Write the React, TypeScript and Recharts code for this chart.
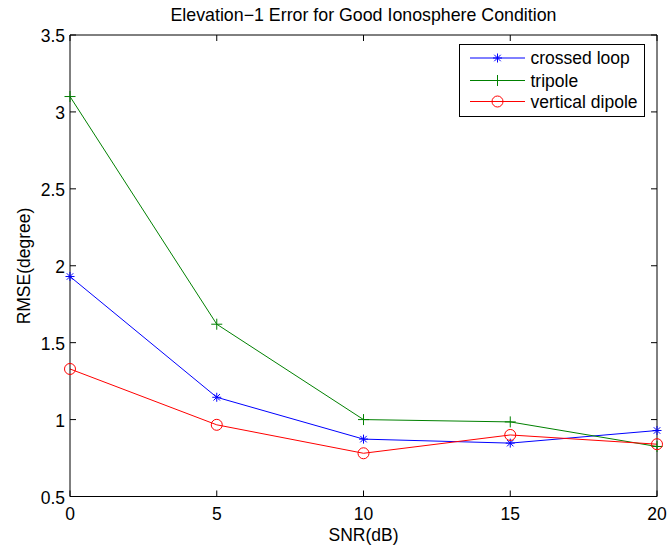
import { Legend, Line, LineChart, XAxis, YAxis } from 'recharts';

const snr = [0, 5, 10, 15, 20];
const crossedLoop = [1.93, 1.145, 0.873, 0.847, 0.929];
const tripole = [3.1, 1.62, 1.0, 0.985, 0.825];
const verticalDipole = [1.329, 0.966, 0.781, 0.9, 0.84];
const xTicks = [0, 5, 10, 15, 20];
const yTicks = [0.5, 1, 1.5, 2, 2.5, 3, 3.5];

const W = 669;
const H = 552;
const plot = { left: 70, right: 657, top: 35, bottom: 496.5 };
const font = '"Liberation Sans", Arial, Helvetica, sans-serif';
const fs = 17.5;
const tickLen = 6;
// room the axes take up outside the plot
const bottomAxisH = 30;
const leftAxisW = 60;
const topAxisH = 1;
const rightAxisW = 1;

const data = snr.map((s, i) => ({
  snr: s,
  crossed: crossedLoop[i],
  tripole: tripole[i],
  vertical: verticalDipole[i]
}));

type MarkerKind = 'star' | 'plus' | 'circle';

const series: { key: string; name: string; color: string; marker: MarkerKind }[] = [
  { key: 'crossed', name: 'crossed loop', color: '#0000ff', marker: 'star' },
  { key: 'tripole', name: 'tripole', color: '#008000', marker: 'plus' },
  { key: 'vertical', name: 'vertical dipole', color: '#ff0000', marker: 'circle' }
];

function Marker({ cx, cy, kind, color }: { cx: number; cy: number; kind: MarkerKind; color: string }) {
  if (kind === 'circle') {
    return <circle cx={cx} cy={cy} r={5.5} fill="none" stroke={color} strokeWidth={1} />;
  }
  if (kind === 'plus') {
    const r = 5.5;
    return (
      <g stroke={color} strokeWidth={1}>
        <line x1={cx - r} x2={cx + r} y1={cy} y2={cy} />
        <line x1={cx} x2={cx} y1={cy - r} y2={cy + r} />
      </g>
    );
  }
  const r = 4.5;
  const d = r * 0.72;
  return (
    <g stroke={color} strokeWidth={1}>
      <line x1={cx - r} x2={cx + r} y1={cy} y2={cy} />
      <line x1={cx} x2={cx} y1={cy - r} y2={cy + r} />
      <line x1={cx - d} x2={cx + d} y1={cy - d} y2={cy + d} />
      <line x1={cx - d} x2={cx + d} y1={cy + d} y2={cy - d} />
    </g>
  );
}

function XTick(props: any) {
  const { x, payload } = props;
  return (
    <g>
      <line x1={x} x2={x} y1={plot.bottom} y2={plot.bottom - tickLen} stroke="#000" />
      <line x1={x} x2={x} y1={plot.top} y2={plot.top + tickLen} stroke="#000" />
      <text x={x} y={519.5} textAnchor="middle" fontFamily={font} fontSize={fs} fill="#000">
        {payload.value}
      </text>
    </g>
  );
}

function YTick(props: any) {
  const { y, payload } = props;
  return (
    <g>
      <line x1={plot.left} x2={plot.left + tickLen} y1={y} y2={y} stroke="#000" />
      <line x1={plot.right} x2={plot.right - tickLen} y1={y} y2={y} stroke="#000" />
      <text x={65} y={y + 7} textAnchor="end" fontFamily={font} fontSize={fs} fill="#000">
        {payload.value}
      </text>
    </g>
  );
}

function LegendBox() {
  const rows = [14, 36.5, 57.5];
  return (
    <svg width={186} height={73} style={{ display: 'block' }}>
      <rect x={0.5} y={0.5} width={185} height={72} fill="#fff" stroke="#000" strokeWidth={1} />
      {series.map((s, i) => (
        <g key={s.key}>
          <line x1={11} x2={66} y1={rows[i]} y2={rows[i]} stroke={s.color} strokeWidth={1} />
          <Marker cx={38.5} cy={rows[i]} kind={s.marker} color={s.color} />
          <text x={71.5} y={rows[i] + 6} fontFamily={font} fontSize={fs} fill="#000">
            {s.name}
          </text>
        </g>
      ))}
    </svg>
  );
}

export default function App() {
  return (
    <div style={{ position: 'absolute', left: 0, top: 0, width: W, height: H, background: '#fff' }}>
      <LineChart
        width={W}
        height={H}
        data={data}
        margin={{
          top: plot.top - topAxisH,
          right: W - plot.right - rightAxisW,
          bottom: H - plot.bottom - bottomAxisH,
          left: plot.left - leftAxisW
        }}
      >
        <XAxis
          dataKey="snr"
          type="number"
          domain={[0, 20]}
          ticks={xTicks}
          height={bottomAxisH}
          tickLine={false}
          axisLine={{ stroke: '#000' }}
          tick={<XTick />}
          interval={0}
        />
        <XAxis
          xAxisId="top"
          orientation="top"
          type="number"
          domain={[0, 20]}
          height={topAxisH}
          tick={false}
          tickLine={false}
          axisLine={{ stroke: '#000' }}
        />
        <YAxis
          type="number"
          domain={[0.5, 3.5]}
          ticks={yTicks}
          width={leftAxisW}
          tickLine={false}
          axisLine={{ stroke: '#000' }}
          tick={<YTick />}
          interval={0}
        />
        <YAxis
          yAxisId="right"
          orientation="right"
          type="number"
          domain={[0.5, 3.5]}
          width={rightAxisW}
          tick={false}
          tickLine={false}
          axisLine={{ stroke: '#000' }}
        />
        {series.map((s) => (
          <Line
            key={s.key}
            dataKey={s.key}
            name={s.name}
            type="linear"
            stroke={s.color}
            strokeWidth={1}
            isAnimationActive={false}
            dot={(p: any) => <Marker key={`${s.key}-${p.index}`} cx={p.cx} cy={p.cy} kind={s.marker} color={s.color} />}
            activeDot={false}
          />
        ))}
        <Legend
          layout="vertical"
          align="center"
          verticalAlign="middle"
          content={() => <LegendBox />}
          wrapperStyle={{ left: 459, top: 44, width: 186, height: 73 }}
        />
      </LineChart>
      <svg
        width={W}
        height={H}
        style={{ position: 'absolute', left: 0, top: 0, pointerEvents: 'none' }}
        fontFamily={font}
        fontSize={fs}
      >
        <text x={363.5} y={21} textAnchor="middle" fill="#000" fontSize={17.8}>
          Elevation−1 Error for Good Ionosphere Condition
        </text>
        <text x={363.5} y={541} textAnchor="middle" fill="#000">
          SNR(dB)
        </text>
        <text x={29.5} y={266} textAnchor="middle" fill="#000" transform="rotate(-90 29.5 266)">
          RMSE(degree)
        </text>
      </svg>
    </div>
  );
}
